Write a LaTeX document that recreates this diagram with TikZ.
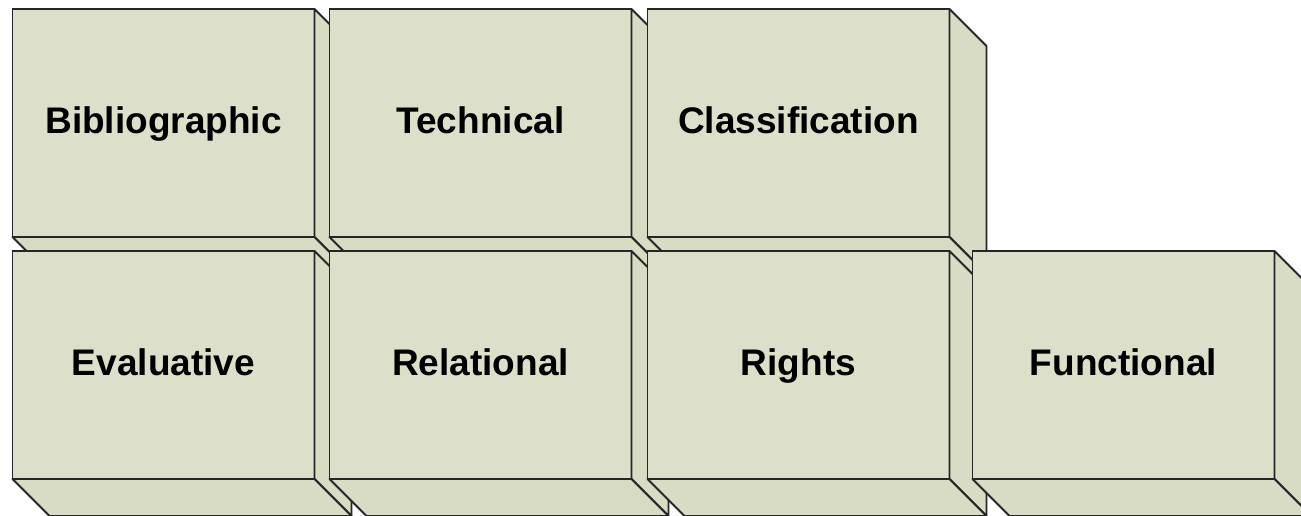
\documentclass[tikz,border=0pt]{standalone}
\usepackage{fontspec}
\setmainfont{Liberation Sans}
\usepackage{tikz}
\usetikzlibrary{positioning}

\definecolor{boxfill}{RGB}{220,223,201}
\definecolor{boxside}{RGB}{216,220,196}

% side and bottom faces of one box
\newcommand{\boxdepth}[1]{%
  \draw[face] (#1.north east) -- ++(37,37) -- ++(0,228) -- (#1.south east) -- cycle;
  \draw[face] (#1.south west) -- (#1.south east) -- ++(37,37) -- ++(-302,0) -- cycle;}

\begin{document}
\begin{tikzpicture}[x=0.5pt, y=-0.5pt,
  face/.style={draw=black!85, line width=0.9pt, fill=boxside, line join=round},
  front/.style={draw=black!85, line width=0.9pt, fill=boxfill, rectangle, outer sep=0pt, inner sep=0pt,
    minimum width=151pt, minimum height=114pt, text height=13.3pt, text depth=3pt,
    font=\bfseries\fontsize{18.5}{22}\selectfont}]
    \useasboundingbox (0,0) rectangle (1301,515);

    % Top row
    \node[front] (bib) at (163.5,123) {Bibliographic};
    \boxdepth{bib}
    \node[front, right=7.5pt of bib] (tech) {Technical};
    \boxdepth{tech}
    \node[front, right=8pt of tech] (class) {Classification};
    \boxdepth{class}

    % Bottom row
    \node[front, below=7pt of bib] (eval) {Evaluative};
    \boxdepth{eval}
    \node[front, below=7pt of tech] (rel) {Relational};
    \boxdepth{rel}
    \node[front, below=7pt of class] (rights) {Rights};
    \boxdepth{rights}
    \node[front, right=11.5pt of rights] (func) {Functional};
    \boxdepth{func}
\end{tikzpicture}
\end{document}
